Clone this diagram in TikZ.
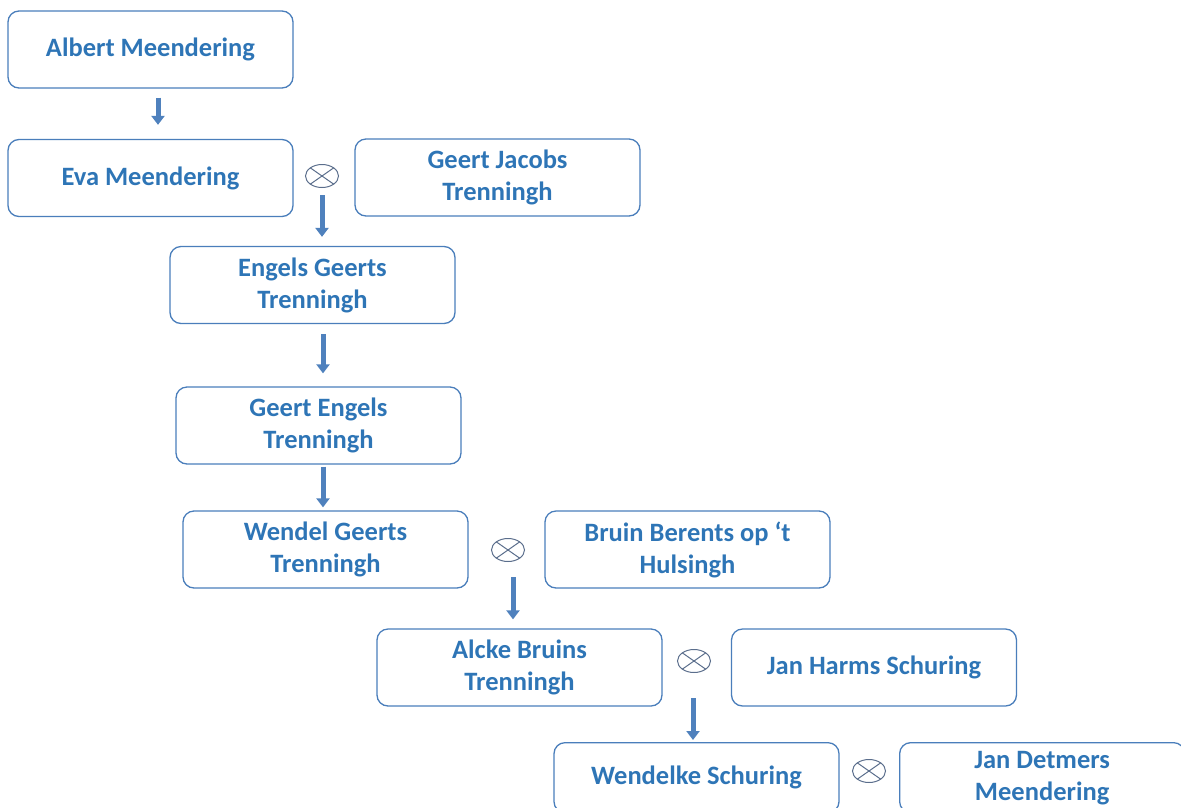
\documentclass[tikz,border=0pt]{standalone}
\usepackage{fontspec}
\setmainfont{Carlito}
\usetikzlibrary{arrows.meta,shapes.geometric}
\definecolor{boxline}{HTML}{4A7EBB}
\definecolor{txt}{HTML}{2E75B6}
\definecolor{arr}{HTML}{4F81BD}
\definecolor{ox}{HTML}{5B6E8C}
\begin{document}
\begin{tikzpicture}[x=1pt,y=-1pt,
  person/.style={draw=boxline,line width=1.3pt,rounded corners=11pt,minimum width=285pt,minimum height=77pt,
    align=center,text=txt,font=\fontsize{26.5}{32}\selectfont\bfseries,inner sep=0pt},
  oxs/.style={draw=ox,line width=1pt,ellipse,minimum width=33pt,minimum height=23pt,inner sep=0pt,
    path picture={\draw[ox,line width=1pt] (path picture bounding box.north west) -- (path picture bounding box.south east)
      (path picture bounding box.north east) -- (path picture bounding box.south west);}},
  blk/.style={draw=arr!80!black,line width=5pt,-{Triangle[width=13pt,length=9pt]},arr}]
\useasboundingbox (0,0) rectangle (1181,807);
\node[person] (a) at (150.5,49.5) {Albert Meendering};
\node[person] (b) at (150.5,178) {Eva Meendering};
\node[person] (c) at (497.5,177.5) {Geert Jacobs\\Trenningh};
\node[person] (d) at (312.5,285) {Engels Geerts\\Trenningh};
\node[person] (e) at (318.5,425.5) {Geert Engels\\Trenningh};
\node[person] (f) at (325.5,549.5) {Wendel Geerts\\Trenningh};
\node[person] (g) at (687.5,549.5) {Bruin Berents op ‘t\\Hulsingh};
\node[person] (h) at (519.5,667.5) {Alcke Bruins\\Trenningh};
\node[person] (i) at (874,667.5) {Jan Harms Schuring};
\node[person,minimum height=70pt,anchor=north] (j) at (696.5,742) {Wendelke Schuring};
\node[person,minimum height=70pt,anchor=north west] (k) at (899,742) {Jan Detmers\\Meendering};
\node[oxs] (o1) at (322,176) {};
\node[oxs] (o2) at (508,550) {};
\node[oxs] (o3) at (694,661) {};
\node[oxs] (o4) at (869,771) {};
\draw[blk] ([xshift=7.5pt,yshift=-9pt]a.south) -- ([xshift=7.5pt,yshift=14pt]b.north);
\draw[blk] ([yshift=-7pt]o1.south) -- ([yshift=9pt]o1.south |- d.north);
\draw[blk,shorten >=13pt] ([xshift=10.5pt,yshift=-10pt]d.south) -- ([xshift=10.5pt]d.south |- e.north);
\draw[blk] ([xshift=4.5pt,yshift=-2pt]e.south) -- ([xshift=4.5pt,yshift=3pt]e.south |- f.north);
\draw[blk] ([xshift=5pt,yshift=-15pt]o2.south) -- ([xshift=5pt,yshift=9pt]o2.south |- h.north);
\draw[blk] ([xshift=-1pt,yshift=-25pt]o3.south) -- ([xshift=-1pt,yshift=2pt]o3.south |- j.north);
\end{tikzpicture}
\end{document}
